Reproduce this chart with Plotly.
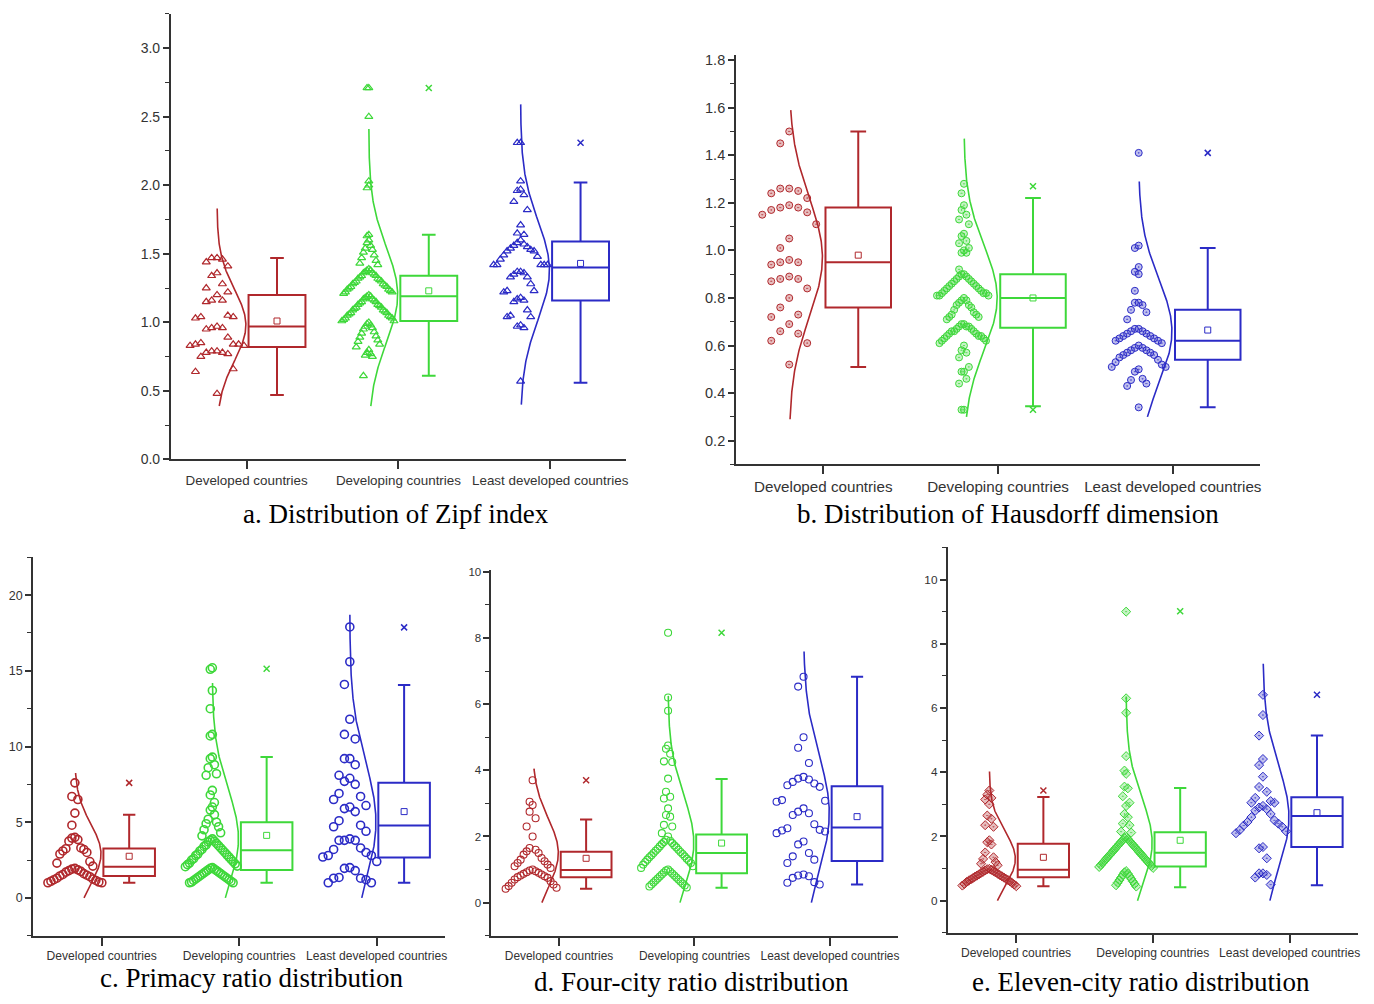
import numpy as np
import plotly.graph_objects as go

W, H = 1374, 1004
CATEGORIES = ["Developed countries", "Developing countries", "Least developed countries"]
COLORS = ["#B0282C", "#3ED83A", "#2B2BC6"]
FILLS = ["rgba(176,40,44,0.30)", "rgba(62,216,58,0.30)", "rgba(43,43,198,0.30)"]

# ---------------- a. Zipf index ----------------
zipf_developed = [1.47, 1.47, 1.46, 1.44, 1.41, 1.36, 1.34, 1.28, 1.25, 1.22, 1.20, 1.16, 1.16, 1.15,
                  1.05, 1.04, 1.04, 1.03, 0.97, 0.96, 0.96, 0.95, 0.89, 0.85, 0.84, 0.84, 0.84, 0.83,
                  0.83, 0.79, 0.79, 0.78, 0.78, 0.77, 0.75, 0.66, 0.64, 0.48]
zipf_developing = [2.71, 2.71, 2.50, 2.03, 2.00, 1.98, 1.64, 1.63,
                   1.60, 1.58, 1.56, 1.54, 1.53, 1.51, 1.49, 1.47, 1.45, 1.43, 1.42,
                   1.39, 1.38, 1.38, 1.37, 1.36, 1.36, 1.35, 1.34, 1.34, 1.33, 1.32, 1.32, 1.31, 1.30,
                   1.30, 1.29, 1.28, 1.28, 1.27, 1.26, 1.26, 1.25, 1.24, 1.24, 1.23, 1.22, 1.22, 1.21,
                   1.20, 1.19, 1.19, 1.18, 1.17, 1.17, 1.16, 1.15, 1.15, 1.14, 1.13, 1.13, 1.12, 1.11,
                   1.11, 1.10, 1.09, 1.09, 1.08, 1.07, 1.07, 1.06, 1.05, 1.05, 1.04, 1.03, 1.03, 1.02,
                   1.01, 1.01,
                   1.00, 0.99, 0.98, 0.97, 0.96, 0.95, 0.93, 0.92, 0.90, 0.89, 0.87, 0.86, 0.84, 0.82,
                   0.80, 0.78, 0.77, 0.76, 0.75, 0.61]
zipf_least = [2.31, 2.31, 2.03, 1.97, 1.96, 1.93, 1.88, 1.82, 1.71, 1.65, 1.64, 1.60, 1.58, 1.57,
              1.56, 1.55, 1.54, 1.53, 1.52, 1.52, 1.49, 1.48, 1.46, 1.42, 1.42, 1.42, 1.42, 1.42,
              1.37, 1.37, 1.36, 1.35, 1.33, 1.33, 1.28, 1.23, 1.23, 1.22, 1.18, 1.17, 1.16, 1.15,
              1.09, 1.05, 1.04, 1.04, 0.98, 0.97, 0.96, 0.57]
zipf_q1 = [0.82, 1.01, 1.16]
zipf_median = [0.97, 1.19, 1.40]
zipf_q3 = [1.20, 1.34, 1.59]
zipf_mean = [1.01, 1.23, 1.43]
zipf_whisker_low = [0.47, 0.61, 0.56]
zipf_whisker_high = [1.47, 1.64, 2.02]
zipf_outliers = [[], [2.71], [2.31]]
zipf_curve_mu = [0.98, 1.20, 1.38]
zipf_curve_sd = [0.26, 0.35, 0.36]
zipf_curve_low = [0.39, 0.39, 0.40]
zipf_curve_high = [1.83, 2.41, 2.59]

# ---------------- b. Hausdorff dimension ----------------
haus_developed = [1.50, 1.45, 1.26, 1.26, 1.25, 1.24, 1.22, 1.19, 1.18, 1.18, 1.17, 1.16, 1.15, 1.11,
                  1.05, 1.01, 0.96, 0.95, 0.95, 0.94, 0.89, 0.88, 0.88, 0.87, 0.84, 0.80, 0.76, 0.73,
                  0.72, 0.69, 0.66, 0.65, 0.62, 0.61, 0.52]
haus_developing = [1.28, 1.24, 1.19, 1.17, 1.15, 1.13, 1.11, 1.07, 1.06, 1.04, 1.03, 1.01, 1.00, 0.99,
                   0.99, 0.92,
                   0.90, 0.90, 0.89, 0.89, 0.88, 0.88, 0.87, 0.87, 0.86, 0.86, 0.85, 0.85, 0.84, 0.84,
                   0.83, 0.83, 0.82, 0.82, 0.82, 0.81, 0.81, 0.81,
                   0.80, 0.79, 0.79, 0.78, 0.77, 0.77, 0.76, 0.75, 0.74, 0.73, 0.73, 0.72, 0.72, 0.71,
                   0.69, 0.69, 0.68, 0.68, 0.68, 0.67, 0.67, 0.66, 0.66, 0.66, 0.65, 0.65, 0.64, 0.64,
                   0.64, 0.63, 0.63, 0.62, 0.62, 0.61,
                   0.60, 0.58, 0.57, 0.55, 0.51, 0.49, 0.49, 0.46, 0.44, 0.33, 0.33]
haus_least = [1.41, 1.02, 1.01, 0.93, 0.91, 0.90, 0.83, 0.78, 0.78, 0.77, 0.75, 0.74, 0.71,
              0.67, 0.67, 0.66, 0.66, 0.65, 0.65, 0.64, 0.64, 0.63, 0.63, 0.62, 0.62, 0.61, 0.60,
              0.59, 0.59, 0.58, 0.58, 0.57, 0.57, 0.56, 0.56, 0.55, 0.54, 0.53, 0.52,
              0.51, 0.51, 0.50, 0.49, 0.46, 0.455, 0.44, 0.43, 0.34]
haus_q1 = [0.76, 0.675, 0.54]
haus_median = [0.95, 0.80, 0.62]
haus_q3 = [1.18, 0.90, 0.75]
haus_mean = [0.98, 0.80, 0.665]
haus_whisker_low = [0.51, 0.345, 0.34]
haus_whisker_high = [1.50, 1.22, 1.01]
haus_outliers = [[], [1.27, 0.33], [1.41]]
haus_curve_mu = [0.97, 0.80, 0.66]
haus_curve_sd = [0.25, 0.22, 0.22]
haus_curve_low = [0.29, 0.30, 0.30]
haus_curve_high = [1.59, 1.47, 1.29]

# ---------------- c. Primacy ratio ----------------
primacy_developed = [7.6, 6.7, 6.5, 5.6, 4.8, 4.0, 3.95, 3.85, 3.75, 3.3, 3.25, 3.2, 3.1, 3.0, 2.9,
                     2.4, 2.3, 2.1, 1.95, 1.9, 1.85, 1.8, 1.75, 1.7, 1.6, 1.55, 1.5, 1.45, 1.4, 1.3,
                     1.25, 1.2, 1.15, 1.1, 1.05, 1.0, 1.0]
primacy_developing = [15.2, 15.1, 13.7, 12.5, 10.8, 10.7, 9.3, 9.2, 8.8, 8.6, 8.2, 8.1, 7.1, 6.8,
                      6.3, 6.0, 5.8, 5.5, 5.2, 5.0, 4.9, 4.7, 4.5, 4.3, 4.1,
                      3.9, 3.8, 3.75, 3.7, 3.6, 3.5, 3.45, 3.4, 3.3, 3.2, 3.15, 3.1, 3.0, 2.9, 2.85,
                      2.8, 2.7, 2.6, 2.55, 2.5, 2.4, 2.3, 2.25, 2.2, 2.1, 2.06,
                      2.0, 1.95, 1.9, 1.85, 1.8, 1.75, 1.7, 1.65, 1.6, 1.55, 1.5, 1.45, 1.4, 1.35,
                      1.3, 1.25, 1.2, 1.15, 1.1, 1.05, 1.0, 1.0]
primacy_least = [17.9, 15.6, 14.1, 11.8, 10.8, 10.5, 9.2, 9.2, 8.8, 8.1, 7.9, 7.7, 7.5, 6.9, 6.7,
                 6.5, 6.1, 6.0, 5.9, 5.7, 5.1, 4.8, 4.7, 4.4, 3.9, 3.8, 3.8, 3.8, 3.3, 3.2, 3.0,
                 2.8, 2.8, 2.7, 2.4, 2.0, 1.95, 1.8, 1.35, 1.3, 1.3, 1.2, 1.0, 1.0]
primacy_q1 = [1.45, 1.85, 2.67]
primacy_median = [2.06, 3.15, 4.78]
primacy_q3 = [3.26, 5.0, 7.6]
primacy_mean = [2.75, 4.13, 5.7]
primacy_whisker_low = [1.0, 1.0, 1.0]
primacy_whisker_high = [5.5, 9.3, 14.07]
primacy_outliers = [[7.6], [15.14], [17.87]]
primacy_curve_mu = [2.9, 3.9, 5.0]
primacy_curve_sd = [2.0, 3.3, 4.0]
primacy_curve_low = [0.0, 0.0, 0.0]
primacy_curve_high = [8.25, 14.2, 18.7]

# ---------------- d. Four-city ratio ----------------
four_developed = [3.7, 3.05, 2.95, 2.75, 2.55, 2.3, 2.0, 1.65, 1.6, 1.55, 1.5, 1.45, 1.35, 1.3, 1.25,
                  1.2, 1.15, 1.1, 1.05, 1.0, 0.97, 0.95, 0.92, 0.9, 0.87, 0.85, 0.82, 0.8, 0.77,
                  0.75, 0.7, 0.65, 0.6, 0.55, 0.5, 0.45, 0.42]
four_developing = [8.16, 6.2, 5.8, 4.75, 4.65, 4.5, 4.27, 4.25, 3.75, 3.35, 3.2, 3.15, 2.85, 2.65,
                   2.6, 2.35, 2.3, 2.1, 2.0,
                   1.9, 1.87, 1.83, 1.8, 1.77, 1.73, 1.7, 1.67, 1.63, 1.6, 1.57, 1.53, 1.5, 1.47,
                   1.43, 1.4, 1.37, 1.33, 1.3, 1.27, 1.23, 1.2, 1.15, 1.1, 1.05,
                   1.0, 0.97, 0.94, 0.91, 0.88, 0.85, 0.82, 0.79, 0.76, 0.73, 0.7, 0.67, 0.64, 0.61,
                   0.58, 0.55, 0.52, 0.49, 0.46]
four_least = [6.83, 6.53, 5.0, 4.68, 4.22, 3.8, 3.75, 3.72, 3.65, 3.6, 3.55, 3.5, 3.1, 3.08, 3.05,
              2.85, 2.75, 2.7, 2.65, 2.37, 2.25, 2.2, 2.18, 2.15, 2.1, 1.85, 1.76, 1.5, 1.4, 1.3,
              1.2, 0.85, 0.82, 0.8, 0.75, 0.62, 0.6, 0.55]
four_q1 = [0.77, 0.89, 1.26]
four_median = [0.99, 1.50, 2.27]
four_q3 = [1.54, 2.06, 3.52]
four_mean = [1.34, 1.80, 2.60]
four_whisker_low = [0.42, 0.45, 0.55]
four_whisker_high = [2.51, 3.74, 6.83]
four_outliers = [[3.70], [8.16], []]
four_curve_mu = [1.5, 1.8, 2.7]
four_curve_sd = [1.05, 1.45, 1.75]
four_curve_low = [0.0, 0.0, 0.0]
four_curve_high = [4.05, 6.25, 7.59]

# ---------------- e. Eleven-city ratio ----------------
eleven_developed = [3.43, 3.3, 3.2, 3.15, 3.0, 2.65, 2.55, 2.35, 2.3, 1.88, 1.82, 1.75, 1.5, 1.35,
                    1.3, 1.2, 1.15, 1.1, 0.99, 0.98, 0.96, 0.94, 0.92, 0.9, 0.88, 0.86, 0.84, 0.82,
                    0.8, 0.78, 0.76, 0.74, 0.72, 0.7, 0.68, 0.66, 0.64, 0.62, 0.6, 0.58, 0.55, 0.52,
                    0.5, 0.47, 0.45]
eleven_developing = [9.0, 6.3, 5.85, 4.5, 4.05, 3.95, 3.55, 3.5, 3.25, 3.05, 2.95, 2.7, 2.6, 2.4,
                     2.35, 2.15, 2.12,
                     1.98, 1.95, 1.92, 1.89, 1.86, 1.83, 1.8, 1.77, 1.74, 1.71, 1.68, 1.65, 1.62,
                     1.59, 1.56, 1.53, 1.5, 1.47, 1.44, 1.41, 1.38, 1.35, 1.32, 1.29, 1.26, 1.23,
                     1.2, 1.17, 1.14, 1.11, 1.08, 1.05, 1.02,
                     0.92, 0.88, 0.84, 0.8, 0.76, 0.72, 0.68, 0.64, 0.6, 0.56, 0.52, 0.48, 0.44]
eleven_least = [6.41, 5.78, 5.14, 4.41, 4.22, 3.86, 3.54, 3.39, 3.2, 3.1, 3.05, 3.05, 2.95, 2.9,
                2.85, 2.8, 2.7, 2.6, 2.5, 2.45, 2.4, 2.34, 2.3, 2.2, 2.16, 2.1, 1.67, 1.63, 1.32,
                0.85, 0.85, 0.8, 0.72, 0.5]
eleven_q1 = [0.73, 1.06, 1.67]
eleven_median = [0.96, 1.49, 2.64]
eleven_q3 = [1.77, 2.13, 3.22]
eleven_mean = [1.35, 1.88, 2.74]
eleven_whisker_low = [0.45, 0.42, 0.48]
eleven_whisker_high = [3.23, 3.51, 5.14]
eleven_outliers = [[3.43], [9.01], [6.41]]
eleven_curve_mu = [1.3, 1.8, 2.6]
eleven_curve_sd = [0.85, 1.4, 1.6]
eleven_curve_low = [0.0, 0.0, 0.0]
eleven_curve_high = [4.02, 6.36, 7.38]

CAPTIONS = ["a. Distribution of Zipf index", "b. Distribution of Hausdorff dimension",
            "c. Primacy ratio distribution", "d. Four-city ratio distribution",
            "e. Eleven-city ratio distribution"]

# ---------------- panel assembly (data + layout/style) ----------------
PANELS = [
    dict(points=[zipf_developed, zipf_developing, zipf_least], q1=zipf_q1, med=zipf_median,
         q3=zipf_q3, mean=zipf_mean, lo=zipf_whisker_low, hi=zipf_whisker_high, out=zipf_outliers,
         mu=zipf_curve_mu, sd=zipf_curve_sd, clo=zipf_curve_low, chi=zipf_curve_high),
    dict(points=[haus_developed, haus_developing, haus_least], q1=haus_q1, med=haus_median,
         q3=haus_q3, mean=haus_mean, lo=haus_whisker_low, hi=haus_whisker_high, out=haus_outliers,
         mu=haus_curve_mu, sd=haus_curve_sd, clo=haus_curve_low, chi=haus_curve_high),
    dict(points=[primacy_developed, primacy_developing, primacy_least], q1=primacy_q1,
         med=primacy_median, q3=primacy_q3, mean=primacy_mean, lo=primacy_whisker_low,
         hi=primacy_whisker_high, out=primacy_outliers, mu=primacy_curve_mu, sd=primacy_curve_sd,
         clo=primacy_curve_low, chi=primacy_curve_high),
    dict(points=[four_developed, four_developing, four_least], q1=four_q1, med=four_median,
         q3=four_q3, mean=four_mean, lo=four_whisker_low, hi=four_whisker_high, out=four_outliers,
         mu=four_curve_mu, sd=four_curve_sd, clo=four_curve_low, chi=four_curve_high),
    dict(points=[eleven_developed, eleven_developing, eleven_least], q1=eleven_q1,
         med=eleven_median, q3=eleven_q3, mean=eleven_mean, lo=eleven_whisker_low,
         hi=eleven_whisker_high, out=eleven_outliers, mu=eleven_curve_mu, sd=eleven_curve_sd,
         clo=eleven_curve_low, chi=eleven_curve_high),
]

STYLE = [
    dict(px=(171, 627, 10, 461), yr=[0, 3.25], tick0=0, dtick=0.5, minor=0.25, fmt=".1f",
         xfs=13.4, yfs=14, cap=(397, 516), binw=0.2, origin=0.005, step=6.0,
         sym="triangle-up-open", msize=7, mlw=1.2, filled=False),
    dict(px=(737, 1262, 52, 466), yr=[0.1, 1.82], tick0=0.2, dtick=0.2, minor=0.1, fmt=".1f",
         xfs=15.2, yfs=14.5, cap=(1009, 516), binw=0.1, origin=0.005, step=9.3,
         sym="circle-dot", msize=7, mlw=1, filled=True),
    dict(px=(33, 446, 560, 943), yr=[-2.5, 22.5], tick0=0, dtick=5, minor=2.5, fmt="d",
         xfs=12.1, yfs=12.5, cap=(252, 986), binw=2.0, origin=0.05, step=7.0,
         sym="circle-open", msize=8, mlw=1.6, filled=False),
    dict(px=(492, 899, 573, 943), yr=[-1, 10.05], tick0=0, dtick=2, minor=1, fmt="d",
         xfs=11.9, yfs=11.5, cap=(693, 990), binw=1.0, origin=0.02, step=6.5,
         sym="circle-open", msize=7, mlw=1.1, filled=False),
    dict(px=(949, 1360, 550, 940), yr=[-1, 11], tick0=0, dtick=2, minor=1, fmt="d",
         xfs=12.1, yfs=11.8, cap=(1143, 990), binw=1.0, origin=0.01, step=6.0,
         sym="diamond-dot", msize=7, mlw=1, filled=True),
]

PTS_OFFSET = -0.195
BOX_OFFSET = 0.2
BOX_WIDTH = 0.375
CURVE_AMP = 0.19
HALF_SPREAD_PX = 27.0
AXIS_COLOR = "#333333"
LABEL_FONT = "Liberation Sans, Arial, sans-serif"


def swarm_x(values, center, binw, origin, step_max, halfw):
    v = np.asarray(values, dtype=float)
    bins = np.floor((v - origin) / binw).astype(int)
    uniq = np.unique(bins)
    max_half = max(int(np.ceil((np.sum(bins == b) - 1) / 2.0)) for b in uniq)
    step = step_max if max_half == 0 else min(step_max, halfw / max_half)
    xs = np.zeros(len(v))
    for b in uniq:
        idx = np.where(bins == b)[0]
        order = idx[np.argsort(-v[idx], kind="stable")]
        for k, j in enumerate(order):
            m = (k + 1) // 2
            sgn = -1 if k % 2 == 1 else 1
            xs[j] = center + sgn * m * step
    return xs


fig = go.Figure()
layout_axes = {}
annotations = []

for i, (P, S) in enumerate(zip(PANELS, STYLE)):
    n = "" if i == 0 else str(i + 1)
    xref, yref = "x" + n, "y" + n
    x0, x1, ytop, ybot = S["px"]
    px_per_unit = (x1 - x0) / 3.0
    for g in range(3):
        pos = g + 1
        col = COLORS[g]
        cx = pos + PTS_OFFSET
        vals = P["points"][g]
        xs = swarm_x(vals, cx, S["binw"], S["origin"], S["step"] / px_per_unit,
                     HALF_SPREAD_PX / px_per_unit)
        marker = dict(symbol=S["sym"], size=S["msize"],
                      color=FILLS[g] if S["filled"] else col,
                      line=dict(color=col, width=S["mlw"]))
        fig.add_trace(go.Scatter(x=xs, y=vals, mode="markers", marker=marker,
                                 xaxis=xref, yaxis=yref, hoverinfo="y"))
        # normal distribution curve
        yy = np.linspace(P["clo"][g], P["chi"][g], 240)
        xx = cx + CURVE_AMP * np.exp(-0.5 * ((yy - P["mu"][g]) / P["sd"][g]) ** 2)
        fig.add_trace(go.Scatter(x=xx, y=yy, mode="lines", line=dict(color=col, width=1.6),
                                 xaxis=xref, yaxis=yref, hoverinfo="skip"))
        # box
        fig.add_trace(go.Box(x=[pos + BOX_OFFSET], q1=[P["q1"][g]], median=[P["med"][g]],
                             q3=[P["q3"][g]], lowerfence=[P["lo"][g]],
                             upperfence=[P["hi"][g]], width=BOX_WIDTH, whiskerwidth=0.24,
                             boxpoints=False, line=dict(color=col, width=2),
                             fillcolor="rgba(255,255,255,0)", xaxis=xref, yaxis=yref))
        # mean marker
        fig.add_trace(go.Scatter(x=[pos + BOX_OFFSET], y=[P["mean"][g]], mode="markers",
                                 marker=dict(symbol="square-open", size=6, color=col,
                                             line=dict(width=1)),
                                 xaxis=xref, yaxis=yref))
        # outliers
        if P["out"][g]:
            fig.add_trace(go.Scatter(x=[pos + BOX_OFFSET] * len(P["out"][g]), y=P["out"][g],
                                     mode="markers",
                                     marker=dict(symbol="x-thin", size=6, color=col,
                                                 line=dict(width=1.5, color=col)),
                                     xaxis=xref, yaxis=yref))

    layout_axes["xaxis" + n] = dict(
        domain=[x0 / W, x1 / W], range=[0.5, 3.5], anchor=yref,
        tickmode="array", tickvals=[1, 2, 3], ticktext=CATEGORIES, tickangle=0,
        ticks="outside", ticklen=8, tickwidth=1.5, tickcolor=AXIS_COLOR,
        showline=True, linecolor=AXIS_COLOR, linewidth=1.6,
        showgrid=False, zeroline=False, fixedrange=True,
        tickfont=dict(family=LABEL_FONT, size=S["xfs"], color="#333333"))
    layout_axes["yaxis" + n] = dict(
        domain=[1 - ybot / H, 1 - ytop / H], range=S["yr"], anchor=xref,
        tickmode="linear", tick0=S["tick0"], dtick=S["dtick"], tickformat=S["fmt"],
        ticks="outside", ticklen=6, tickwidth=1.5, tickcolor=AXIS_COLOR,
        minor=dict(ticks="outside", ticklen=4, tickwidth=1.2, tickcolor=AXIS_COLOR,
                   dtick=S["minor"], tick0=S["tick0"]),
        showline=True, linecolor=AXIS_COLOR, linewidth=1.6,
        showgrid=False, zeroline=False, fixedrange=True,
        tickfont=dict(family=LABEL_FONT, size=S["yfs"], color="#333333"))
    annotations.append(dict(text=CAPTIONS[i], xref="paper", yref="paper",
                            x=S["cap"][0] / W, y=1 - S["cap"][1] / H,
                            xanchor="center", yanchor="middle", showarrow=False,
                            font=dict(family="Liberation Serif, Times New Roman, serif",
                                      size=27, color="#000000")))

fig.update_layout(width=W, height=H, margin=dict(l=0, r=0, t=0, b=0),
                  paper_bgcolor="white", plot_bgcolor="white", showlegend=False,
                  annotations=annotations, **layout_axes)

fig.write_html("out.html", include_plotlyjs=True, full_html=True,
               config={"displayModeBar": False, "responsive": False})
